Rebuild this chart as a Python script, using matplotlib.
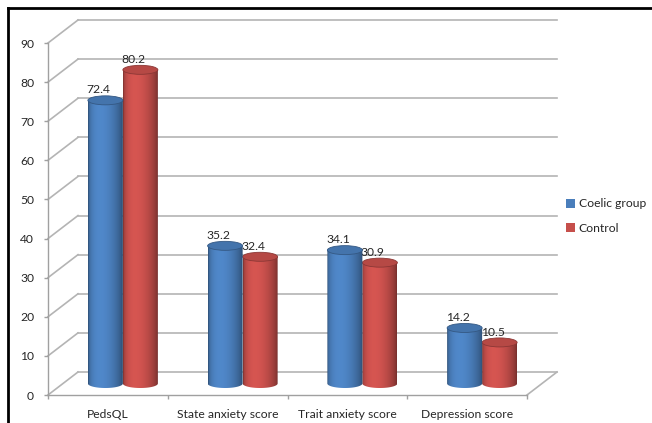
import numpy as np
import matplotlib
matplotlib.use("Agg")
import matplotlib.pyplot as plt
from matplotlib.patches import Polygon, Ellipse, Patch
from matplotlib.lines import Line2D
from matplotlib.colors import to_rgb

categories = ["PedsQL", "State anxiety score", "Trait anxiety score", "Depression score"]
coelic = [72.4, 35.2, 34.1, 14.2]
control = [80.2, 32.4, 30.9, 10.5]
series_names = ["Coelic group", "Control"]
yticks = list(range(0, 100, 10))

plt.rcParams["font.family"] = ["Lato", "DejaVu Sans"]
FS = 8.7

W, H = 652, 423
fig = plt.figure(figsize=(W / 100, H / 100), dpi=100)
# front plane of the 3d box, in pixels
x_left, x_right, y_zero, y_top = 48, 527, 395, 43
ax = fig.add_axes([x_left / W, (H - y_zero) / H,
                   (x_right - x_left) / W, (y_zero - y_top) / H])
ax.set_xlim(0, len(categories))
ax.set_ylim(0, 90)

px_x = (x_right - x_left) / len(categories)
px_y = (y_zero - y_top) / 90.0
DX, DY = 30 / px_x, 23 / px_y          # depth of the box in data units
cw = 35 / px_x                         # cylinder width
eh = 9 / px_y                          # height of cylinder end ellipses

grid_c = "#b4b4b4"
# back wall, left wall and floor
for v in yticks:
    ax.plot([DX, len(categories) + DX], [v + DY, v + DY], color=grid_c, lw=1.2,
            clip_on=False, zorder=1)
    ax.plot([0, DX], [v, v + DY], color=grid_c, lw=1.2, clip_on=False, zorder=1)
ax.plot([len(categories), len(categories) + DX], [0, DY], color=grid_c, lw=1.2,
        clip_on=False, zorder=1)

# shading across a cylinder
t = np.linspace(0, 1, 80)
u = t ** (np.log(0.5) / np.log(0.35))
shade = 0.58 + 0.5 * np.sin(np.pi * u) ** 0.6


def cylinder(xc, val, base, z):
    rgb = np.array(to_rgb(base))
    grad = np.clip(rgb[None, :] * shade[:, None], 0, 1)[None, :, :]
    x0, x1 = xc - cw / 2, xc + cw / 2
    yb, yt = DY / 2, val + DY / 2
    th = np.linspace(0, np.pi, 40)
    arc = np.column_stack([xc + cw / 2 * np.cos(th), yb - eh / 2 * np.sin(th)])
    body = np.vstack([[[x0, yt], [x1, yt]], arc])
    clip = Polygon(body, closed=True, transform=ax.transData)
    im = ax.imshow(grad, extent=[x0, x1, yb - eh / 2, yt], aspect="auto",
                   interpolation="bilinear", zorder=z)
    im.set_clip_path(clip)
    ax.add_patch(Ellipse((xc, yt), cw, eh, facecolor=np.clip(rgb * 0.92, 0, 1),
                         edgecolor=np.clip(rgb * 0.7, 0, 1), lw=0.6,
                         zorder=z + 0.1, clip_on=False))
    return yt + eh / 2


colors = ["#4a7ebb", "#c64f4b"]
lab_dx = 7 / px_x
for i in range(len(categories)):
    mid = i + 0.5 + DX / 2
    for k, (vals, col) in enumerate(zip([coelic, control], colors)):
        xc = mid + (k - 0.5) * cw
        top = cylinder(xc, vals[i], col, 5 if k == 0 else 4)
        ax.text(xc - lab_dx, top + 0.1, f"{vals[i]:.1f}", ha="center", va="bottom",
                fontsize=FS, color="#262626", zorder=6 if k == 0 else 3.5)

ax.set_ylim(0, 90)
ax.set_xlim(0, len(categories))

# front axes
for s in ["top", "right"]:
    ax.spines[s].set_visible(False)
for s in ["left", "bottom"]:
    ax.spines[s].set_color("#a0a0a0")
    ax.spines[s].set_linewidth(1.0)
    ax.spines[s].set_zorder(2)
ax.set_yticks(yticks)
ax.set_yticklabels([str(v) for v in yticks])
ax.set_xticks(range(len(categories) + 1))
ax.set_xticklabels([])
ax.set_xticks([i + 0.5 for i in range(len(categories))], minor=True)
ax.set_xticklabels(categories, minor=True)
ax.tick_params(axis="y", length=3, width=1, color="#a0a0a0", labelsize=FS,
               labelcolor="#262626", pad=7)
ax.tick_params(axis="x", which="major", length=3, width=1, color="#a0a0a0")
ax.tick_params(axis="x", which="minor", length=0, labelsize=FS,
               labelcolor="#262626", pad=10)
ax.patch.set_visible(False)

handles = [Patch(facecolor=c) for c in colors]
fig.legend(handles, series_names, loc="center left",
           bbox_to_anchor=(555 / W, 1 - 216 / H), frameon=False, fontsize=FS,
           handlelength=0.75, handleheight=0.75, handletextpad=0.3,
           labelspacing=1.1, labelcolor="#262626")

# outer frame
fy = 1 - 8 / H
fx = 8 / W
fig.add_artist(Line2D([fx, 1], [fy, fy], color="black", lw=2))
fig.add_artist(Line2D([fx, fx], [0, fy], color="black", lw=2))

fig.savefig("out.png", dpi=100)
